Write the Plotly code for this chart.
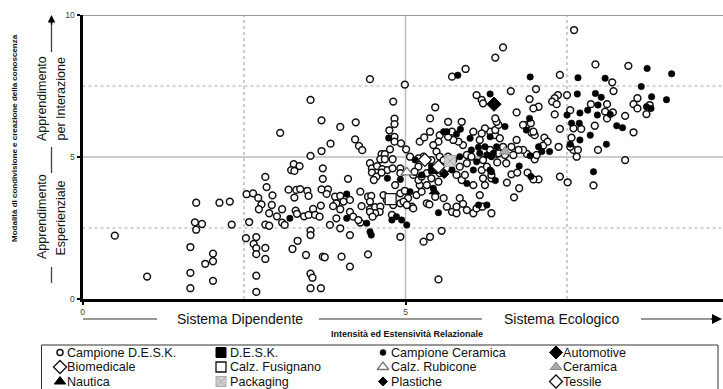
import plotly.graph_objects as go

W, H = 723, 389
FONT = "Liberation Sans, Arial, sans-serif"

# ---------------- data ----------------
campione_desk = [
    (0.50,2.23),(1.00,0.79),(1.67,0.38),(1.67,0.92),(1.67,1.83),(1.76,3.39),(1.74,2.70),(1.85,2.64),
    (1.76,2.44),(2.02,1.60),(2.02,1.33),(1.90,1.24),(2.02,0.64),(2.12,3.39),(2.28,3.43),(2.31,2.62),
    (2.53,2.14),(2.58,2.71),(2.69,2.18),(2.65,1.94),(2.69,1.79),(2.69,1.58),(2.83,1.80),(2.83,1.41),
    (2.69,0.82),(2.69,0.25),(2.54,3.69),(2.64,3.72),(2.72,3.56),(2.77,3.33),(2.73,3.16),(2.83,4.30),
    (2.85,3.94),(2.94,3.65),(2.93,3.31),(2.89,3.02),(2.83,2.62),(2.89,2.58),(3.01,2.91),(3.09,3.16),
    (3.09,2.69),(3.13,2.61),(3.19,3.85),(3.31,3.84),(3.37,3.87),(3.48,3.81),(3.50,3.63),(3.28,3.57),
    (3.27,4.75),(3.36,4.68),(3.23,4.54),(3.28,4.51),(3.06,5.85),(3.53,7.01),(3.70,6.29),(3.70,5.21),
    (3.53,5.04),(3.33,2.05),(3.25,1.76),(3.46,1.55),(3.53,2.41),(3.53,2.25),(3.53,0.89),(3.56,0.75),
    (3.53,0.38),(3.69,0.38),(3.30,3.11),(3.32,3.00),(3.43,2.91),(3.50,2.96),(3.57,3.17),(3.60,2.96),
    (3.67,2.90),(3.69,3.29),(3.70,3.86),(3.72,4.23),(3.72,4.60),(3.72,1.49),
    (4.45,7.74),(4.99,7.55),(4.81,6.95),(5.46,6.75),(5.93,8.10),(5.72,7.83),(3.99,6.06),(4.23,6.22),
    (4.83,6.35),(4.83,6.16),(4.75,5.94),(4.83,5.71),(4.22,5.62),(4.28,5.39),(4.33,5.24),(3.84,5.47),
    (4.11,4.23),(4.83,5.54),(4.63,5.10),(4.68,5.10),(4.61,4.92),(4.68,4.92),(4.80,4.92),(4.76,5.27),
    (4.93,5.48),(5.01,5.27),(4.45,4.78),(4.48,4.60),(4.56,4.68),(4.64,4.57),(4.72,4.54),(4.80,4.60),
    (4.92,4.60),(6.10,7.18),(6.18,7.01),(6.20,6.89),(6.31,5.89),(6.23,6.01),(6.18,5.83),(6.05,5.89),
    (6.15,5.60),(6.39,5.77),(6.46,5.66),(5.95,5.07),(6.02,5.01),(6.20,4.89),(6.18,4.54),(6.26,4.66),
    (5.95,4.78),(5.89,5.42),(5.82,5.54),(5.74,5.60),(5.66,5.71),(5.72,5.89),(5.87,6.24),(5.66,6.24),
    (5.53,5.77),(5.51,5.54),(5.38,5.89),(5.38,6.36),(5.22,5.54),(5.29,5.69),(5.43,5.42),(5.48,5.19),
    (5.53,5.01),(5.59,4.89),(5.66,5.01),(5.74,4.89),(5.84,4.66),(5.64,4.60),(5.53,4.68),(5.40,4.89),
    (5.33,4.89),(5.28,5.01),(5.20,4.95),(5.07,5.01),(5.20,4.66),(5.33,4.43),(5.40,4.25),(5.53,4.43),
    (4.92,4.43),
    (3.80,3.86),(3.78,3.70),(3.91,3.60),(3.99,3.63),(4.14,3.49),(4.04,3.43),(3.93,3.37),(3.88,3.27),
    (3.99,3.16),(4.30,3.78),(4.42,3.60),(4.47,3.63),(4.45,3.43),(4.32,3.27),(4.45,3.16),(4.53,3.23),
    (4.61,3.25),(4.60,3.07),(4.53,3.02),(4.45,3.07),(4.49,2.90),(3.93,2.84),(4.14,3.07),(4.19,2.90),
    (4.30,2.69),(4.27,2.78),(3.83,2.61),(3.99,2.49),(4.14,2.25),(4.79,2.96),(4.92,2.19),(4.42,1.57),
    (4.14,1.14),(4.01,1.49),(3.75,1.47),(5.51,0.69),(5.28,2.02),(5.38,2.19),(5.56,2.40),(5.04,3.55),
    (5.10,3.25),(5.12,3.19),(4.81,3.31),(4.71,3.49),(4.66,3.66),(4.92,3.37),(4.97,3.43),(5.02,3.31),
    (4.92,3.72),(4.99,3.81),(5.17,3.66),(5.25,3.78),(5.33,3.37),(5.37,3.33),(5.46,3.60),(5.59,3.55),
    (5.64,3.25),(5.72,3.07),(5.79,3.02),(5.79,3.25),(5.84,3.55),(5.89,3.35),(5.95,3.13),(6.05,3.02),
    (6.10,3.19),(6.19,3.25),(6.33,3.02),(6.20,4.25),(6.23,4.01),(6.33,4.25),(6.05,4.01),(5.87,4.19),
    (5.92,4.37),(5.79,4.37),(5.59,4.43),(5.51,4.13),(5.33,4.01),(5.22,4.01),(5.20,4.19),(5.25,4.31),
    (5.12,4.37),(5.14,4.48),(4.48,4.45),(4.55,4.31),(4.51,4.19),(4.63,4.45),(4.84,4.01),(6.15,3.66),
    (8.40,4.89),(7.91,4.00),(7.51,4.11),(7.39,4.31),(7.65,5.01),(7.06,4.21),(6.98,4.21),(6.89,4.45),
    (6.76,3.90),(6.68,3.58),(6.57,4.10),(6.64,4.39),(6.73,4.45),(6.56,4.78),(6.42,4.81),(6.33,4.37),
    (7.00,4.92),(6.88,5.11),(7.03,5.07),(6.67,5.07),(6.54,5.07),(6.41,5.11),(7.60,5.25),(7.67,5.25),
    (7.98,5.25),
    (7.61,9.47),(6.51,8.86),(6.39,8.50),(7.94,8.26),(8.45,8.21),(7.39,7.89),(8.20,7.63),(8.22,7.32),
    (8.59,7.07),(8.53,6.86),(8.59,6.71),(8.78,6.83),(8.73,6.51),(8.40,6.45),(8.53,5.87),(7.87,6.86),
    (8.12,6.86),(8.09,6.60),(8.12,6.36),(8.21,6.57),(7.55,6.65),(7.72,5.99),(7.60,6.01),(7.93,6.10),
    (7.57,5.68),(7.55,5.36),(7.50,7.18),(7.36,7.18),(7.31,7.07),(7.27,6.95),(7.34,6.86),(7.31,6.50),
    (7.39,5.99),(7.37,5.36),(7.06,6.77),(6.98,6.71),(6.92,7.04),(7.02,7.39),(6.63,7.32),(6.72,6.57),
    (6.88,6.13),(6.94,6.19),(6.95,5.86),(7.00,5.77),(7.15,5.68),(7.20,5.54),(7.13,5.40),(6.82,5.25),
    (6.72,5.60),(6.75,5.25),(6.64,5.36),(6.51,5.36),(6.44,5.13),(6.31,5.25),(6.39,5.95),(6.44,6.13),
    (6.41,6.24),(6.39,6.36),(6.82,6.13),(6.98,5.89),
]
campione_ceramica = [
    (3.21,2.84),
    (5.81,7.88),(4.74,5.67),(6.00,5.66),(6.23,5.36),(6.13,5.34),(6.02,5.25),(6.15,5.13),(6.26,5.07),
    (6.36,5.13),(6.10,4.83),(6.05,4.54),(6.33,4.48),(5.84,5.01),(5.59,5.89),(5.64,5.89),(5.79,5.81),
    (5.85,5.98),(5.72,4.54),(5.48,4.54),(5.15,4.89),(5.25,4.37),
    (4.72,4.25),(4.92,4.21),(4.09,3.70),(4.09,2.84),(4.40,2.67),(4.45,2.37),(4.47,2.25),(4.79,2.78),
    (4.86,2.90),(4.94,2.78),(5.02,2.61),(5.07,3.78),(5.51,3.04),(6.13,3.31),(6.26,3.31),(5.95,4.07),
    (5.43,3.90),
    (7.91,4.48),(6.94,4.31),(6.76,4.68),(6.39,4.17),(6.31,4.54),(6.93,5.04),(6.33,5.01),(7.11,5.19),
    (7.23,5.19),
    (8.74,8.12),(9.12,7.93),(6.93,7.82),(7.67,7.79),(8.09,7.77),(8.65,7.48),(8.81,7.12),(9.04,7.02),
    (8.73,6.77),(8.80,6.71),(8.27,6.10),(8.36,6.03),(8.11,5.45),(7.94,7.24),(8.03,7.10),(7.98,6.83),
    (8.17,6.50),(7.97,6.48),(7.82,6.65),(7.70,6.55),(7.50,6.48),(7.57,6.19),(7.69,6.19),(7.86,5.77),
    (7.70,5.60),(7.55,5.45),(7.66,7.22),(6.92,6.36),(6.87,5.95),(7.06,5.36),(6.41,5.36),(6.31,5.71),
    (6.54,6.07),(6.31,7.22),
]
desk_x, desk_y = [p[0] for p in campione_desk], [p[1] for p in campione_desk]
cer_x, cer_y = [p[0] for p in campione_ceramica], [p[1] for p in campione_ceramica]

# single-observation groups
group_names = ["D.E.S.K.", "Automotive", "Biomedicale", "Calz. Fusignano", "Calz. Rubicone",
               "Ceramica", "Nautica", "Packaging", "Plastiche", "Tessile"]
group_x = [5.43, 6.37, 5.51, 4.77, 5.02, 6.54, 5.45, 5.69, 5.60, 5.30]
group_y = [4.58, 6.86, 4.66, 3.52, 4.46, 5.19, 3.78, 4.86, 4.40, 4.90]

legend_labels = [
    ["Campione D.E.S.K.", "D.E.S.K.", "Campione Ceramica", "Automotive"],
    ["Biomedicale", "Calz. Fusignano", "Calz. Rubicone", "Ceramica"],
    ["Nautica", "Packaging", "Plastiche", "Tessile"],
]
x_tick_vals = [0, 5, 10]
y_tick_vals = [0, 5, 10]

# ---------------- styles ----------------
STY = {
    "Campione D.E.S.K.": dict(symbol="circle", size=6.8, color="white", line=dict(color="#111", width=1.5)),
    "Campione Ceramica": dict(symbol="circle", size=6.5, color="black", line=dict(color="black", width=0.5)),
    "D.E.S.K.": dict(symbol="square", size=9, color="black", line=dict(color="black", width=1)),
    "Automotive": dict(symbol="diamond", size=11, color="black", line=dict(color="black", width=1)),
    "Biomedicale": dict(symbol="diamond", size=10, color="white", line=dict(color="#111", width=1.3)),
    "Calz. Fusignano": dict(symbol="square", size=11, color="white", line=dict(color="#111", width=1.3)),
    "Calz. Rubicone": dict(symbol="triangle-up", size=10, color="white", line=dict(color="#777", width=1.3)),
    "Ceramica": dict(symbol="triangle-up", size=10, color="#aaa", line=dict(color="#888", width=1)),
    "Nautica": dict(symbol="triangle-up", size=9, color="black", line=dict(color="black", width=1)),
    "Packaging": dict(symbol="square-x", size=11, color="#d0d0d0", line=dict(color="#aaa", width=1)),
    "Plastiche": dict(symbol="diamond", size=7, color="black", line=dict(color="black", width=1)),
    "Tessile": dict(symbol="diamond", size=10, color="white", line=dict(color="#111", width=1.3)),
}

fig = go.Figure()
fig.add_trace(go.Scatter(x=desk_x, y=desk_y, mode="markers", marker=STY["Campione D.E.S.K."],
                         showlegend=False, hoverinfo="skip"))
fig.add_trace(go.Scatter(x=cer_x, y=cer_y, mode="markers", marker=STY["Campione Ceramica"],
                         showlegend=False, hoverinfo="skip"))
for n, gx, gy in zip(group_names, group_x, group_y):
    fig.add_trace(go.Scatter(x=[gx], y=[gy], mode="markers", marker=STY[n], showlegend=False,
                             hoverinfo="skip"))

ann = []

def txt(x, y, t, size, angle=0, xanchor="center", bold=False):
    ann.append(dict(x=x, y=y, xref="x2", yref="y2", text=(f"<b>{t}</b>" if bold else t),
                    textangle=angle, showarrow=False, xanchor=xanchor, yanchor="middle",
                    borderpad=0, borderwidth=0,
                    font=dict(size=size, color="#111", family=FONT)))

# ---------------- legend (pixel overlay axes) ----------------
col_marker_px = [60, 221, 383, 556]
col_text_px = [67, 230, 391, 563]
row_px = [352.5, 367, 381.5]
for r, row in enumerate(legend_labels):
    for c, lab in enumerate(row):
        s = dict(STY[lab])
        s["size"] = {"Campione D.E.S.K.": 6, "Campione Ceramica": 6, "Plastiche": 7}.get(lab, 10)
        fig.add_trace(go.Scatter(x=[col_marker_px[c]], y=[row_px[r]], mode="markers", marker=s,
                                 xaxis="x2", yaxis="y2", showlegend=False, hoverinfo="skip"))
        txt(col_text_px[c], row_px[r], lab, 12.6, xanchor="left")

shapes = []
# grid
for v, d, c, w in [(2.5, "dot", "#aaa", 1.2), (7.5, "dot", "#aaa", 1.2), (5, "solid", "#bbb", 1.5)]:
    shapes.append(dict(type="line", xref="x", yref="y", x0=0, x1=9.915, y0=v, y1=v,
                       line=dict(color=c, width=w, dash=d), layer="below"))
    shapes.append(dict(type="line", xref="x", yref="y", x0=v, x1=v, y0=0, y1=10,
                       line=dict(color=c, width=w, dash=d), layer="below"))
shapes.append(dict(type="line", xref="x", yref="y", x0=0, x1=9.915, y0=10, y1=10,
                   line=dict(color="#999", width=2), layer="below"))
# legend box
shapes.append(dict(type="rect", xref="x2", yref="y2", x0=41.5, x1=718, y0=345, y1=400,
                   line=dict(color="#333", width=1), fillcolor="rgba(0,0,0,0)"))
# x-axis band lines
for a, b in [(83, 157), (319, 482), (641, 716)]:
    shapes.append(dict(type="line", xref="x2", yref="y2", x0=a, x1=b, y0=319, y1=319,
                       line=dict(color="#999", width=2)))
# y-axis band lines
for a, b in [(52, 22), (147, 173), (267, 283)]:
    shapes.append(dict(type="line", xref="x2", yref="y2", x0=51.5, x1=51.5, y0=a, y1=b,
                       line=dict(color="#444", width=1.3)))

ann.append(dict(x=722, y=319, ax=710, ay=319, xref="x2", yref="y2", axref="x2", ayref="y2",
                text="", showarrow=True, arrowhead=2, arrowsize=1, arrowwidth=2, arrowcolor="black"))
ann.append(dict(x=51.5, y=15, ax=51.5, ay=26, xref="x2", yref="y2", axref="x2", ayref="y2",
                text="", showarrow=True, arrowhead=2, arrowsize=1, arrowwidth=1.5, arrowcolor="black"))
txt(239.5, 319, "Sistema Dipendente", 14)
txt(561.5, 319, "Sistema Ecologico", 14)
txt(407, 334, "Intensità ed Estensività Relazionale", 9, bold=True)
txt(14, 138, "Modalità di condivisione e creazione della conoscenza", 8, angle=-90, bold=True)
txt(42, 99, "Apprendimento", 12.5, angle=-90)
txt(60.5, 99, "per Interazione", 12.5, angle=-90)
txt(42, 217, "Apprendimento", 12.5, angle=-90)
txt(60.5, 218, "Esperienziale", 12.5, angle=-90)

x0f, x1f = 82.5 / W, 1.0
y0f, y1f = (H - 299) / H, (H - 15) / H

fig.update_layout(
    width=W, height=H,
    margin=dict(l=0, r=0, t=0, b=0, pad=0, autoexpand=False),
    paper_bgcolor="white", plot_bgcolor="rgba(0,0,0,0)",
    showlegend=False,
    font=dict(family=FONT),
    xaxis=dict(domain=[x0f, x1f], range=[0, 9.915], tickvals=x_tick_vals, ticktext=["0", "5", "10"],
               showgrid=False, zeroline=False, showline=True, linecolor="black", linewidth=3,
               ticks="outside", ticklen=3, tickwidth=2, tickcolor="black",
               tickfont=dict(size=8.5, color="#444", family=FONT), fixedrange=True),
    yaxis=dict(domain=[y0f, y1f], range=[0, 10], tickvals=y_tick_vals, ticktext=["0", "5", "10"],
               showgrid=False, zeroline=False, showline=True, linecolor="black", linewidth=3,
               ticks="outside", ticklen=3, tickwidth=2, tickcolor="black",
               tickfont=dict(size=8.5, color="#444", family=FONT), fixedrange=True),
    xaxis2=dict(domain=[0, 1], range=[0, W], visible=False, anchor="y2", fixedrange=True),
    yaxis2=dict(domain=[0, 1], range=[H, 0], visible=False, anchor="x2", fixedrange=True),
    shapes=shapes, annotations=ann,
)

fig.write_html("out.html")
